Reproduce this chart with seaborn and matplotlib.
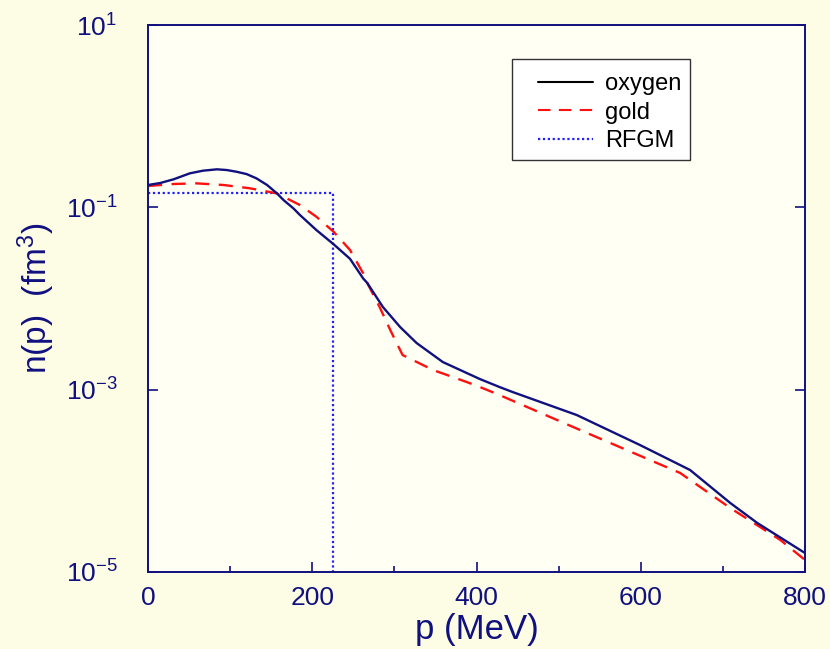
import numpy as np
import pandas as pd
import matplotlib
matplotlib.use("Agg")
import matplotlib.pyplot as plt
from matplotlib.lines import Line2D
from matplotlib.patches import Rectangle
from matplotlib.ticker import FixedLocator, FixedFormatter, NullLocator, MultipleLocator
import seaborn as sns

# --- data ---
p_oxygen = [0, 15, 31, 51, 67, 84, 96, 108, 120, 132, 145, 157, 165, 177, 185, 205,
            226, 246, 262, 267, 286, 307, 327, 359, 388, 404, 428, 444, 522, 599,
            660, 709, 742, 800]
logn_oxygen = [-0.755, -0.733, -0.693, -0.627, -0.598, -0.583, -0.591, -0.610, -0.635,
               -0.682, -0.755, -0.847, -0.920, -1.011, -1.084, -1.249, -1.405, -1.565,
               -1.780, -1.830, -2.093, -2.313, -2.488, -2.697, -2.817, -2.883, -2.971,
               -3.026, -3.278, -3.607, -3.881, -4.243, -4.463, -4.792]

p_gold = [0, 31, 59, 92, 124, 157, 185, 205, 226, 246, 262, 267, 282, 295, 310, 347,
          388, 404, 428, 526, 648, 709, 770, 800]
logn_gold = [-0.766, -0.744, -0.737, -0.755, -0.791, -0.847, -0.975, -1.103, -1.268,
             -1.468, -1.724, -1.830, -2.093, -2.346, -2.620, -2.784, -2.916, -2.970,
             -3.059, -3.442, -3.914, -4.298, -4.649, -4.868]

p_rfgm = [0, 225, 225]
n_rfgm = [0.1445, 0.1445, 1e-6]

series_labels = ["oxygen", "gold", "RFGM"]
xticks = [0, 200, 400, 600, 800]
yticks = [1e-5, 1e-3, 1e-1, 1e1]
ytick_labels = [r"$\mathregular{10^{-5}}$", r"$\mathregular{10^{-3}}$",
                r"$\mathregular{10^{-1}}$", r"$\mathregular{10^{1}}$"]

df_o = pd.DataFrame({"p": p_oxygen, "n": 10 ** np.array(logn_oxygen)})
df_g = pd.DataFrame({"p": p_gold, "n": 10 ** np.array(logn_gold)})
df_r = pd.DataFrame({"p": p_rfgm, "n": n_rfgm})

sns.set_theme(style="ticks")
plt.rcParams["font.family"] = ["Liberation Sans", "DejaVu Sans"]
plt.rcParams["mathtext.default"] = "regular"

W, H = 830, 649
navy = "#10107f"
red = "#ff1010"
blue = "#2020ff"
fig = plt.figure(figsize=(8.3, 6.49), dpi=100, facecolor="#fdfde6")
ax = fig.add_axes([148 / W, 1 - 572 / H, (805 - 148) / W, (572 - 25) / H])
ax.set_facecolor("#fffff4")

sns.lineplot(data=df_r, x="p", y="n", ax=ax, color=blue, linestyle=(0, (1, 1.2)),
             linewidth=1.6, sort=False, estimator=None)
sns.lineplot(data=df_g, x="p", y="n", ax=ax, color=red, linestyle=(0, (6, 4)),
             linewidth=1.7, sort=False, estimator=None)
sns.lineplot(data=df_o, x="p", y="n", ax=ax, color=navy, linewidth=1.7,
             sort=False, estimator=None)

ax.set_yscale("log")
ax.set_xlim(0, 800)
ax.set_ylim(1e-5, 10)

ax.xaxis.set_major_locator(FixedLocator(xticks))
ax.xaxis.set_minor_locator(MultipleLocator(100))
ax.yaxis.set_major_locator(FixedLocator(yticks))
ax.yaxis.set_major_formatter(FixedFormatter(ytick_labels))
ax.yaxis.set_minor_locator(NullLocator())

ax.tick_params(axis="both", which="major", direction="in", length=7, width=1.2,
               colors=navy, labelsize=19, right=True)
ax.tick_params(axis="y", which="major", pad=22)
ax.tick_params(axis="x", which="major", pad=10)
ax.tick_params(axis="x", which="minor", direction="in", length=4, width=1.2,
               colors=navy, bottom=True)
for sp in ax.spines.values():
    sp.set_color(navy)
    sp.set_linewidth(1.4)
    sp.set_visible(True)

ax.set_xlabel("p (MeV)", fontsize=25, color=navy, labelpad=2)
ax.set_ylabel(r"n(p)  (fm$^{3}$)", fontsize=24, color=navy, labelpad=6)

# legend frame
frame = Rectangle((512 / W, 1 - 160 / H), (690 - 512) / W, (160 - 59) / H,
                  transform=fig.transFigure, facecolor="white",
                  edgecolor="#333333", linewidth=1.0, zorder=4, clip_on=False)
ax.add_patch(frame)
handles = [Line2D([], [], color="black", linewidth=1.5),
           Line2D([], [], color=red, linestyle=(0, (6, 4)), linewidth=1.5),
           Line2D([], [], color=blue, linestyle=(0, (1, 1.2)), linewidth=1.6)]
leg = ax.legend(handles, series_labels, loc="upper left",
                bbox_to_anchor=(538 / W, 1 - 73 / H), bbox_transform=fig.transFigure,
                fontsize=17, frameon=False, handlelength=2.35,
                borderpad=0, labelspacing=0.28, handletextpad=0.5, borderaxespad=0)
leg.set_zorder(6)
for t in leg.get_texts():
    t.set_color("black")

fig.savefig("out.png", dpi=100, facecolor=fig.get_facecolor())
